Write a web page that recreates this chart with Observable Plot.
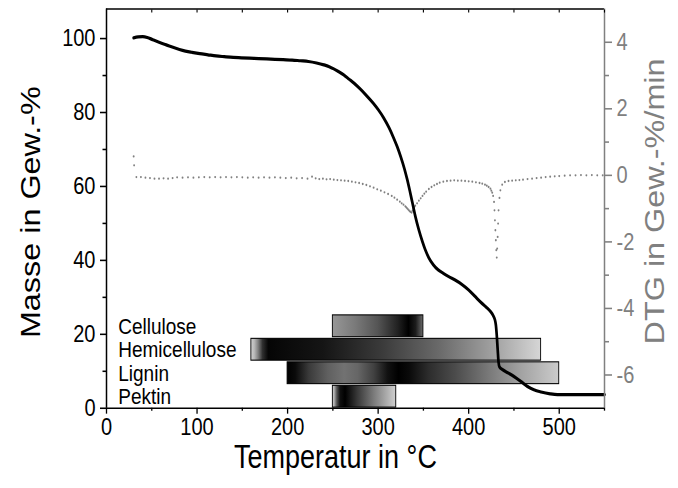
<!DOCTYPE html>
<html><head><meta charset="utf-8">
<script src="https://cdn.jsdelivr.net/npm/d3@7"></script>
<script src="https://cdn.jsdelivr.net/npm/@observablehq/plot@0.6"></script>
<style>html,body{margin:0;padding:0;background:#fff;} #chart svg{display:block;}</style>
</head><body><div id="chart"></div>
<script>
// ---- data ----
const tgaCurve = [[30,100.2],[35,100.45],[40,100.5],[45,100.3],[51,99.7],[58,99.0],[66,98.3],[75,97.5],[84,96.8],[94,96.3],[103,95.9],[112,95.6],[121,95.3],[130,95.1],[140,94.9],[149,94.8],[158,94.7],[168,94.6],[177,94.5],[186,94.4],[195,94.3],[205,94.2],[214,94.0],[223,93.8],[232,93.4],[240,92.9],[246,92.4],[251,91.8],[256,91.1],[262,90.2],[268,89.0],[273,88.0],[280,86.4],[287,84.6],[295,82.4],[300,80.8],[306,78.6],[312,75.9],[317,73.2],[321,70.8],[325,68.0],[329,64.8],[332,62.0],[335,58.8],[338,55.4],[341,52.0],[345,48.2],[349,45.0],[352,42.9],[356,40.7],[361,38.8],[366,37.5],[372,36.5],[378,35.6],[385,34.7],[392,33.6],[400,32.0],[405,30.8],[410,29.5],[415,28.3],[420,27.2],[424,26.2],[427,25.1],[429,23.9],[430,22.6],[431,19.8],[432,16.0],[433,12.4],[434,11.2],[437,10.5],[444,9.5],[450,8.6],[458,7.2],[465,5.9],[472,5.0],[480,4.4],[490,3.9],[498,3.7],[510,3.7],[520,3.7],[530,3.7],[540,3.7],[550,3.7]];

const dtgPoints = [[30,0.57],[30.5,0.30],[33,-0.05],[38,-0.05],[43,-0.07],[48,-0.08],[53,-0.10],[58,-0.10],[63,-0.09],[68,-0.10],[73,-0.08],[78,-0.06],[84,-0.07],[90,-0.06],[96,-0.07],[102,-0.06],[108,-0.05],[114,-0.06],[120,-0.05],[126,-0.06],[132,-0.05],[138,-0.06],[144,-0.05],[150,-0.06],[156,-0.07],[162,-0.06],[168,-0.07],[174,-0.06],[180,-0.07],[186,-0.06],[192,-0.07],[198,-0.08],[204,-0.07],[210,-0.09],[216,-0.08],[222,-0.10],[227,-0.04],[231,-0.09],[235,-0.11],[239,-0.10],[243,-0.12],[247,-0.11],[251,-0.13],[255,-0.14],[259,-0.15],[263,-0.16],[267,-0.17],[271,-0.19],[275,-0.21],[279,-0.23],[283,-0.26],[287,-0.29],[291,-0.33],[295,-0.37],[299,-0.42],[303,-0.46],[307,-0.51],[311,-0.56],[315,-0.62],[318,-0.67],[321,-0.73],[324,-0.79],[326,-0.84],[328,-0.88],[330,-0.93],[331,-0.96],[332,-0.99],[333,-1.02],[334,-1.05],[335,-1.08],[336,-1.10],[337,-1.12],[338,-1.06],[339,-1.00],[340,-0.95],[341,-0.91],[343,-0.84],[345,-0.76],[347,-0.69],[349,-0.62],[351,-0.55],[353,-0.49],[356,-0.41],[359,-0.35],[362,-0.30],[365,-0.26],[368,-0.22],[372,-0.19],[376,-0.17],[380,-0.16],[384,-0.15],[388,-0.16],[392,-0.16],[396,-0.17],[400,-0.18],[404,-0.19],[408,-0.21],[412,-0.23],[415,-0.25],[418,-0.28],[420,-0.31],[422,-0.35],[424,-0.40],[425,-0.46],[426,-0.52],[427,-0.62],[428,-0.80],[428.5,-1.05],[429,-1.35],[429.5,-1.65],[430,-1.95],[430.5,-2.25],[431,-2.47],[431.5,-2.20],[432,-1.85],[432.5,-1.45],[433,-1.05],[434,-0.68],[435,-0.45],[437,-0.28],[440,-0.20],[444,-0.17],[448,-0.16],[452,-0.15],[456,-0.14],[460,-0.13],[465,-0.11],[470,-0.10],[475,-0.08],[480,-0.07],[485,-0.05],[490,-0.04],[495,-0.03],[500,-0.02],[506,-0.01],[512,0.00],[518,0.00],[524,0.01],[530,0.00],[536,0.01],[542,0.00],[548,0.00]];

const components = ["Cellulose", "Hemicellulose", "Lignin", "Pektin"];
const rangeStart = [250, 160, 200, 250];
const rangeEnd = [350, 480, 500, 320];

const massTicks = [0, 20, 40, 60, 80, 100];
const massMinor = [10, 30, 50, 70, 90];
const dtgTicks = [-6, -4, -2, 0, 2, 4];
const dtgMinor = [-5, -3, -1, 1, 3];
const tempTicks = [0, 100, 200, 300, 400, 500];
const tempMinor = [50, 150, 250, 350, 450, 550];

// ---- styling ----
const gradientStops = {
  Cellulose: [[0,"#979797"],[0.25,"#7a7a7a"],[0.5,"#555"],[0.72,"#222"],[0.84,"#000"],[0.92,"#1c1c1c"],[1,"#6a6a6a"]],
  Hemicellulose: [[0,"#d2d2d2"],[0.012,"#b8b8b8"],[0.025,"#808080"],[0.04,"#303030"],[0.06,"#050505"],[0.25,"#151515"],[0.45,"#3a3a3a"],[0.65,"#6a6a6a"],[0.85,"#a5a5a5"],[1,"#d6d6d6"]],
  Lignin: [[0,"#000"],[0.03,"#0a0a0a"],[0.08,"#3a3a3a"],[0.15,"#606060"],[0.21,"#727272"],[0.26,"#666"],[0.32,"#404040"],[0.37,"#111"],[0.41,"#000"],[0.45,"#0a0a0a"],[0.52,"#2c2c2c"],[0.62,"#4c4c4c"],[0.74,"#787878"],[0.86,"#a2a2a2"],[1,"#cbcbcb"]],
  Pektin: [[0,"#d2d2d2"],[0.03,"#aaa"],[0.07,"#555"],[0.12,"#111"],[0.2,"#000"],[0.4,"#3a3a3a"],[0.65,"#7a7a7a"],[0.85,"#aaa"],[1,"#d0d0d0"]]
};
const GRAY = "#808080";
const STRETCH = 1.2;              // reference is stretched vertically
const OUT_W = 678, OUT_H = 488;
const BASE_H = Math.round(OUT_H / STRETCH);
const BAR_PITCH = 6.35, BAR_H = 5.9, BAR_OFF = 0.15;
const barY1 = i => BAR_OFF + (components.length - 1 - i) * BAR_PITCH;

const dtgToMass = d3.scaleLinear([-7, 5], [0, 108]);
const FONT = "'Liberation Sans', Arial, Helvetica, sans-serif";

const chart = Plot.plot({
  width: OUT_W,
  height: BASE_H,
  marginLeft: 106,
  marginRight: 74,
  marginTop: 7,
  marginBottom: BASE_H - 340,
  x: {domain: [0, 550]},
  y: {domain: [0, 108]},
  style: {fontFamily: FONT, fontSize: "20px", color: "black", background: "white", overflow: "visible"},
  marks: [
    ...components.map((name, i) => Plot.rect([i], {
      x1: j => rangeStart[j], x2: j => rangeEnd[j],
      y1: j => barY1(j), y2: j => barY1(j) + BAR_H,
      fill: `url(#grad-${i})`, stroke: "black", strokeWidth: 0.9
    })),
    Plot.text(components, {x: 13, y: (d, i) => barY1(i) + BAR_H / 2, text: d => d,
      textAnchor: "start", fontSize: 19, fill: "black"}),
    Plot.dot(dtgPoints, {x: d => d[0], y: d => dtgToMass(d[1]), r: 0.95, fill: GRAY, stroke: null}),
    Plot.line(tgaCurve, {x: d => d[0], y: d => d[1], stroke: "black", strokeWidth: 2.7, curve: "monotone-x"}),
    Plot.ruleX([0], {stroke: "black", strokeWidth: 1.5}),
    Plot.ruleY([0], {stroke: "black", strokeWidth: 1.4}),
    Plot.ruleY([108], {stroke: "black", strokeWidth: 1.4}),
    Plot.ruleX([550], {stroke: GRAY, strokeWidth: 1.5}),
    Plot.axisX({ticks: tempTicks, tickSize: 5, tickPadding: 3, fontSize: 20, label: null, strokeWidth: 1.3, tickFormat: d => String(d)}),
    Plot.axisX({ticks: tempMinor, tickSize: 2.5, tickFormat: () => "", label: null, strokeWidth: 1.3}),
    Plot.axisX({anchor: "top", ticks: [...tempTicks.slice(1), ...tempMinor], tickSize: -2.5, tickFormat: () => "", label: null, strokeWidth: 1.1}),
    Plot.axisY({ticks: massTicks, tickSize: 6, tickPadding: 5, fontSize: 20, label: null, strokeWidth: 1.3, tickFormat: d => String(d)}),
    Plot.axisY({ticks: massMinor, tickSize: 3.5, tickFormat: () => "", label: null, strokeWidth: 1.3}),
    Plot.axisY({anchor: "right", ticks: dtgTicks.map(dtgToMass), tickSize: 7, tickPadding: 5, fontSize: 20,
      color: GRAY, label: null, strokeWidth: 1.3, tickFormat: v => String(Math.round(dtgToMass.invert(v)))}),
    Plot.axisY({anchor: "right", ticks: dtgMinor.map(dtgToMass), tickSize: 4, tickFormat: () => "",
      color: GRAY, label: null, strokeWidth: 1.3}),
    Plot.text(["Masse in Gew.-%"], {frameAnchor: "left", text: d => d, rotate: -90, textAnchor: "middle", lineAnchor: "middle",
      dx: -75.5, dy: 3, fontSize: 27, fill: "black"}),
    Plot.text(["DTG in Gew.-%/min"], {frameAnchor: "right", text: d => d, rotate: -90, textAnchor: "middle", lineAnchor: "middle",
      dx: 51, dy: -6, fontSize: 27, fill: GRAY}),
    Plot.text(["Temperatur in °C"], {frameAnchor: "bottom", text: d => d, textAnchor: "middle", lineAnchor: "middle",
      dx: -20, dy: 41, fontSize: 27, fill: "black"})
  ]
});

// gradient definitions for the range bars
const defs = d3.select(chart).insert("defs", ":first-child");
components.forEach((name, i) => {
  const g = defs.append("linearGradient").attr("id", `grad-${i}`)
    .attr("x1", "0").attr("x2", "1").attr("y1", "0").attr("y2", "0");
  gradientStops[name].forEach(([o, c]) => g.append("stop").attr("offset", o).attr("stop-color", c));
});

// stretch vertically like the reference picture
chart.setAttribute("viewBox", `0 0 ${OUT_W} ${BASE_H}`);
chart.setAttribute("width", OUT_W);
chart.setAttribute("height", OUT_H);
chart.setAttribute("preserveAspectRatio", "none");
chart.style.width = OUT_W + "px";
chart.style.height = OUT_H + "px";
chart.style.maxWidth = "none";

document.getElementById("chart").appendChild(chart);
</script>
</body></html>
